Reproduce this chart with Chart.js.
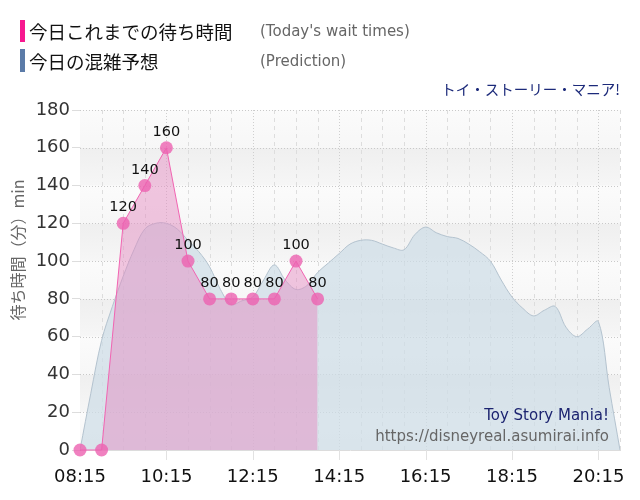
<!DOCTYPE html>
<html><head><meta charset="utf-8">
<script src="https://cdn.jsdelivr.net/npm/chart.js@4/dist/chart.umd.min.js"></script>
<style>
html,body{margin:0;padding:0;background:#fff;}
#wrap{position:relative;width:640px;height:500px;overflow:hidden;}
canvas{position:absolute;left:0;top:0;}
.lg{position:absolute;left:20px;width:5px;}
.jp{position:absolute;font-family:"Noto Sans CJK JP",sans-serif;color:#111;font-size:18.5px;line-height:22px;white-space:nowrap;}
.en{position:absolute;font-family:"DejaVu Sans",Verdana,sans-serif;color:#666;font-size:15px;line-height:22px;white-space:nowrap;}
#ttl{position:absolute;right:20px;top:79px;font-family:"Noto Sans CJK JP",sans-serif;color:#1c2a7a;font-size:14.5px;line-height:20px;white-space:nowrap;}
</style></head>
<body><div id="wrap">
<canvas id="c" width="640" height="500"></canvas>
<div class="lg" style="top:20px;height:22px;background:#f7188f"></div>
<div class="jp" style="left:29px;top:20px">今日これまでの待ち時間</div>
<div class="en" style="left:260px;top:20px">(Today's wait times)</div>
<div class="lg" style="top:49px;height:23px;background:#5b7ba8"></div>
<div class="jp" style="left:29px;top:50px">今日の混雑予想</div>
<div class="en" style="left:260px;top:50px">(Prediction)</div>
<div id="ttl">トイ・ストーリー・マニア!</div>
</div>
<script>
const predTimes = ["08:15","08:30","08:45","09:00","09:15","09:30","09:45","10:00","10:15","10:30","10:45","11:00","11:15","11:30","11:45","12:00","12:15","12:30","12:45","13:00","13:15","13:30","13:45","14:00","14:15","14:30","14:45","15:00","15:15","15:30","15:45","16:00","16:15","16:30","16:45","17:00","17:15","17:30","17:45","18:00","18:15","18:30","18:45","19:00","19:15","19:30","19:45","20:00","20:15","20:30","20:45"];
const predValues = [0,30,58,76,92,106,117,120,120,117,111,105,97,85,77,79,81,90,98,90,85,87,94,99,104,109,111,111,109,107,106,114,118,115,113,112,109,105,100,90,81,75,71,74,76,65,60,64,68,33,0];
const waitTimes = ["08:15","08:45","09:15","09:45","10:15","10:45","11:15","11:45","12:15","12:45","13:15","13:45"];
const waitValues = [0,0,120,140,160,100,80,80,80,80,100,80];
const xTickLabels = ["08:15","10:15","12:15","14:15","16:15","18:15","20:15"];
const yTicks = [0,20,40,60,80,100,120,140,160,180];

const toMin = s => { const [h,m] = s.split(':').map(Number); return h*60+m; };
const fmt = v => { const h = Math.floor(v/60), m = v%60; return String(h).padStart(2,'0')+':'+String(m).padStart(2,'0'); };
const xMin = toMin(predTimes[0]), xMax = toMin(predTimes[predTimes.length-1]);
const majorVals = xTickLabels.map(toMin);

const bgPlugin = {
  id:'bg',
  beforeDatasetsDraw(chart){
    const {ctx, chartArea:a, scales:{x,y}} = chart;
    ctx.save();
    for (let i=0;i<yTicks.length-1;i++){
      const y0 = y.getPixelForValue(yTicks[i]), y1 = y.getPixelForValue(yTicks[i+1]);
      const band = (yTicks.length-2-i)%2===1;
      const g = ctx.createLinearGradient(0,y1,0,y0);
      if (band){ g.addColorStop(0,'#efefef'); g.addColorStop(1,'#f6f6f6'); }
      else { g.addColorStop(0,'#fbfbfb'); g.addColorStop(1,'#f7f7f7'); }
      ctx.fillStyle = g;
      ctx.fillRect(a.left, y1, a.right-a.left, y0-y1);
    }
    ctx.strokeStyle = '#c9c9c9'; ctx.lineWidth = 1; ctx.setLineDash([1,2]);
    yTicks.forEach(v=>{ if(v===0) return; const py = Math.round(y.getPixelForValue(v))+0.5;
      ctx.beginPath(); ctx.moveTo(a.left,py); ctx.lineTo(a.right,py); ctx.stroke(); });
    for (let t=xMin; t<=xMax; t+=30){
      if (t===xMin) continue;
      const px = Math.round(x.getPixelForValue(t))+0.5;
      const major = majorVals.includes(t);
      ctx.beginPath();
      if (major){ ctx.strokeStyle='#cfcfcf'; ctx.setLineDash([1,2]); }
      else { ctx.strokeStyle='#dddddd'; ctx.setLineDash([4,4]); }
      ctx.moveTo(px,a.top); ctx.lineTo(px,a.bottom);
      ctx.stroke();
      if (major){ ctx.setLineDash([]); ctx.strokeStyle='#e2e2e2'; ctx.beginPath(); ctx.moveTo(px,a.bottom); ctx.lineTo(px,a.bottom+10); ctx.stroke(); }
    }
    ctx.restore();
  },
  afterDraw(chart){
    const {ctx, chartArea:a} = chart;
    ctx.save();
    ctx.translate(18, 250); ctx.rotate(-Math.PI/2);
    ctx.fillStyle='#666'; ctx.font='16px "Noto Sans CJK JP", sans-serif';
    ctx.textAlign='center'; ctx.textBaseline='middle';
    ctx.fillText('待ち時間（分）min',0,0);
    ctx.restore();
    ctx.save();
    const meta = chart.getDatasetMeta(1);
    ctx.font='14.5px "DejaVu Sans", sans-serif'; ctx.fillStyle='#111';
    ctx.textAlign='center'; ctx.textBaseline='alphabetic';
    meta.data.forEach((pt,i)=>{ const v = waitValues[i]; if(!v) return; ctx.fillText(String(v), pt.x, pt.y-12); });
    ctx.textAlign='right';
    ctx.font='15px "DejaVu Sans", sans-serif';
    ctx.fillStyle='#1c2470'; ctx.fillText('Toy Story Mania!', a.right-11, a.bottom-30);
    ctx.fillStyle='#666'; ctx.fillText('https://disneyreal.asumirai.info', a.right-11, a.bottom-9);
    ctx.restore();
  }
};

new Chart(document.getElementById('c'), {
  type:'line',
  data:{ datasets:[
    { label:'今日の混雑予想', order:2,
      data: predTimes.map((t,i)=>({x:toMin(t), y:predValues[i]})),
      borderColor:'#b4c3cf', borderWidth:1, backgroundColor:'rgba(205,220,230,0.72)',
      fill:'origin', tension:0.35, pointRadius:0 },
    { label:'今日これまでの待ち時間', order:1, clip:false,
      data: waitTimes.map((t,i)=>({x:toMin(t), y:waitValues[i]})),
      borderColor:'#f264b2', borderWidth:1, backgroundColor:'rgba(228,137,192,0.48)',
      fill:'origin', tension:0, pointRadius:6.5, pointHoverRadius:6.5,
      pointBackgroundColor:'rgba(236,98,176,0.8)', pointBorderWidth:0 }
  ]},
  options:{
    responsive:false, animation:false, events:[],
    layout:{ padding:{ top:110, right:20, left:0, bottom:0 } },
    plugins:{ legend:{display:false}, tooltip:{enabled:false} },
    scales:{
      x:{ type:'linear', min:xMin, max:xMax,
        afterBuildTicks(s){ s.ticks = majorVals.map(v=>({value:v})); },
        afterFit(s){ s.height = 50; },
        grid:{ display:false },
        border:{ display:true, color:'#dcdcdc' },
        ticks:{ callback:v=>fmt(v), color:'#111', font:{ family:'"DejaVu Sans", sans-serif', size:18 }, maxRotation:0, autoSkip:false, padding:9 } },
      y:{ min:0, max:180,
        afterBuildTicks(s){ s.ticks = yTicks.map(v=>({value:v})); },
        afterFit(s){ s.width = 80; },
        grid:{ display:true, drawOnChartArea:false, drawTicks:true, tickLength:8, color:'#dddddd' },
        border:{ display:true, color:'#a8a8a8' },
        ticks:{ color:'#333', font:{ family:'"DejaVu Sans", sans-serif', size:18 }, padding:2 } }
    }
  },
  plugins:[bgPlugin]
});
</script>
</body></html>
